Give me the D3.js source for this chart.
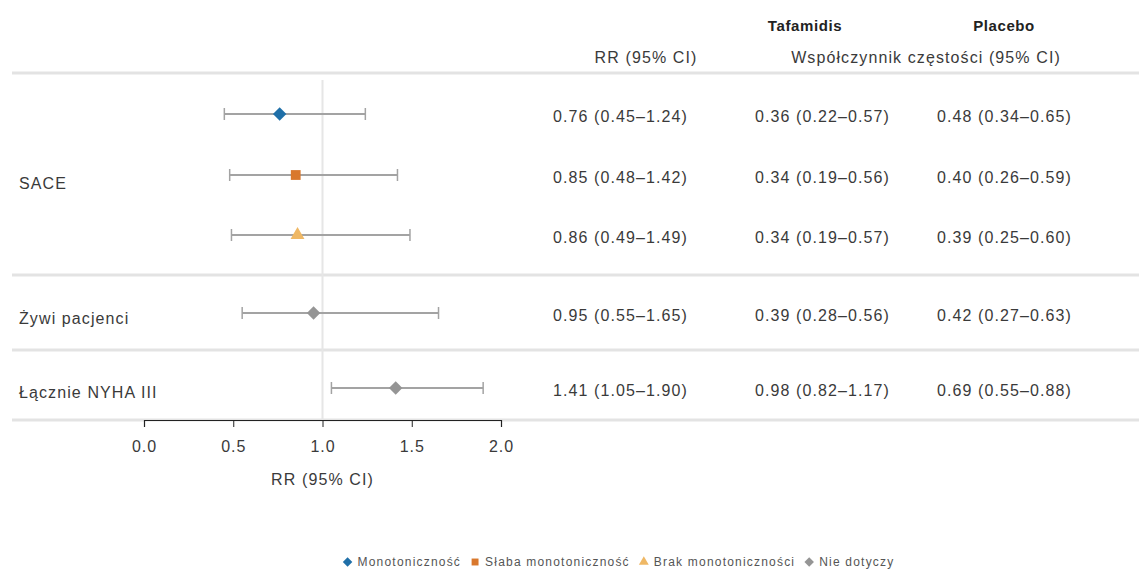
<!DOCTYPE html>
<html>
<head>
<meta charset="utf-8">
<script src="https://cdn.jsdelivr.net/npm/d3@7"></script>
<style>
  html, body { margin: 0; padding: 0; background: #fff; }
  svg { display: block; font-family: "Liberation Sans", Arial, sans-serif; }
  .txt { fill: #3a3a3a; font-size: 16px; letter-spacing: 1.1px; }
  .hdr { fill: #222; font-size: 15px; font-weight: bold; letter-spacing: 0.6px; }
  .leg { fill: #555; font-size: 12px; letter-spacing: 1.2px; }
  .axis text { fill: #3a3a3a; font-size: 16px; letter-spacing: 1px; font-family: "Liberation Sans", Arial, sans-serif; }
  .axis path, .axis line { stroke: #222; }
</style>
</head>
<body>
<svg id="chart" width="1139" height="570"></svg>
<script>
// ---- data ----
const groupLabels = ["SACE", "Żywi pacjenci", "Łącznie NYHA III"];
const categories = ["Monotoniczność", "Słaba monotoniczność", "Brak monotoniczności", "Nie dotyczy", "Nie dotyczy"];
const rr = [0.76, 0.85, 0.86, 0.95, 1.41];
const rrLow = [0.45, 0.48, 0.49, 0.55, 1.05];
const rrHigh = [1.24, 1.42, 1.49, 1.65, 1.90];
const rrText = ["0.76 (0.45–1.24)", "0.85 (0.48–1.42)", "0.86 (0.49–1.49)", "0.95 (0.55–1.65)", "1.41 (1.05–1.90)"];
const tafamidisText = ["0.36 (0.22–0.57)", "0.34 (0.19–0.56)", "0.34 (0.19–0.57)", "0.39 (0.28–0.56)", "0.98 (0.82–1.17)"];
const placeboText = ["0.48 (0.34–0.65)", "0.40 (0.26–0.59)", "0.39 (0.25–0.60)", "0.42 (0.27–0.63)", "0.69 (0.55–0.88)"];
const xTicks = [0, 0.5, 1.0, 1.5, 2.0];
const legendItems = ["Monotoniczność", "Słaba monotoniczność", "Brak monotoniczności", "Nie dotyczy"];

// ---- styles ----
const colorOf = {
  "Monotoniczność": "#1f6fa8",
  "Słaba monotoniczność": "#d9782d",
  "Brak monotoniczności": "#efb865",
  "Nie dotyczy": "#959595"
};
const shapeOf = {
  "Monotoniczność": "diamond",
  "Słaba monotoniczność": "square",
  "Brak monotoniczności": "triangle",
  "Nie dotyczy": "diamond"
};
function symPath(shape, s) {
  if (shape === "diamond") return d3.symbol().type(d3.symbolSquare).size(s * 0.75)();
  if (shape === "square") return d3.symbol().type(d3.symbolSquare).size(s * 0.8)();
  return d3.symbol().type(d3.symbolTriangle).size(s * 0.7)();
}
function symRot(shape) { return shape === "diamond" ? " rotate(45)" : ""; }

const svg = d3.select("#chart");
const x = d3.scaleLinear().domain([0, 2]).range([144, 501]);
const yPos = [114, 175, 235, 313, 388];
const sepY = [73, 275, 350, 420];

// separators
svg.selectAll("line.sep").data(sepY).join("line")
  .attr("class", "sep")
  .attr("x1", 12).attr("x2", 1139)
  .attr("y1", d => d).attr("y2", d => d)
  .attr("stroke", "#e3e3e3").attr("stroke-width", 3);

// reference line at 1
svg.append("line")
  .attr("x1", x(1)).attr("x2", x(1))
  .attr("y1", 80).attr("y2", 420)
  .attr("stroke", "#e6e6e6").attr("stroke-width", 2);

// axis
const axis = svg.append("g").attr("class", "axis")
  .attr("transform", "translate(0,420)")
  .call(d3.axisBottom(x).tickValues(xTicks).tickFormat(d3.format(".1f")).tickSizeOuter(0).tickSize(7).tickPadding(14));
axis.select(".domain").attr("stroke-width", 1.2);

svg.append("text").attr("class", "txt")
  .attr("x", x(1)).attr("y", 485).attr("text-anchor", "middle")
  .text("RR (95% CI)");

// error bars
const rows = d3.range(rr.length);
const g = svg.append("g");
const ciColor = "#a3a3a3";
g.selectAll("line.ci").data(rows).join("line")
  .attr("x1", i => x(rrLow[i])).attr("x2", i => x(rrHigh[i]))
  .attr("y1", i => yPos[i]).attr("y2", i => yPos[i])
  .attr("stroke", ciColor).attr("stroke-width", 2);
g.selectAll("line.capL").data(rows).join("line")
  .attr("x1", i => x(rrLow[i])).attr("x2", i => x(rrLow[i]))
  .attr("y1", i => yPos[i] - 6).attr("y2", i => yPos[i] + 6)
  .attr("stroke", ciColor).attr("stroke-width", 1.5);
g.selectAll("line.capR").data(rows).join("line")
  .attr("x1", i => x(rrHigh[i])).attr("x2", i => x(rrHigh[i]))
  .attr("y1", i => yPos[i] - 6).attr("y2", i => yPos[i] + 6)
  .attr("stroke", ciColor).attr("stroke-width", 1.5);

// markers
g.selectAll("path.pt").data(rows).join("path")
  .attr("transform", i => `translate(${x(rr[i])},${yPos[i]})` + symRot(shapeOf[categories[i]]))
  .attr("d", i => symPath(shapeOf[categories[i]], 120))
  .attr("fill", i => colorOf[categories[i]]);

// left labels
const groupY = [183, 318, 392];
svg.selectAll("text.grp").data(groupLabels).join("text")
  .attr("class", "txt")
  .attr("x", 19).attr("y", (d, i) => groupY[i]).attr("dy", "0.35em")
  .text(d => d);

// table values
const cols = [{x: 553, data: rrText}, {x: 755, data: tafamidisText}, {x: 937, data: placeboText}];
cols.forEach(c => {
  svg.selectAll(null).data(rows).join("text")
    .attr("class", "txt")
    .attr("x", c.x).attr("y", i => yPos[i] + 2).attr("dy", "0.35em")
    .text(i => c.data[i]);
});

// headers
svg.append("text").attr("class", "hdr").attr("x", 805).attr("y", 31).attr("text-anchor", "middle").text("Tafamidis");
svg.append("text").attr("class", "hdr").attr("x", 1004).attr("y", 31).attr("text-anchor", "middle").text("Placebo");
svg.append("text").attr("class", "txt").attr("x", 646).attr("y", 63).attr("text-anchor", "middle").text("RR (95% CI)");
svg.append("text").attr("class", "txt").attr("x", 926).attr("y", 63).attr("text-anchor", "middle").text("Współczynnik częstości (95% CI)");

// legend
const leg = svg.append("g");
let cx = 0;
legendItems.forEach((name) => {
  const it = leg.append("g").attr("transform", `translate(${cx},0)`);
  it.append("path")
    .attr("transform", symRot(shapeOf[name]).trim() || null)
    .attr("d", symPath(shapeOf[name], 60))
    .attr("fill", colorOf[name]);
  const t = it.append("text").attr("class", "leg").attr("x", 10).attr("dy", "0.35em").text(name);
  cx += 10 + t.node().getComputedTextLength() + 14;
});
const legW = cx - 14;
leg.attr("transform", `translate(${617 - legW / 2 + 4},562)`);
</script>
</body>
</html>
